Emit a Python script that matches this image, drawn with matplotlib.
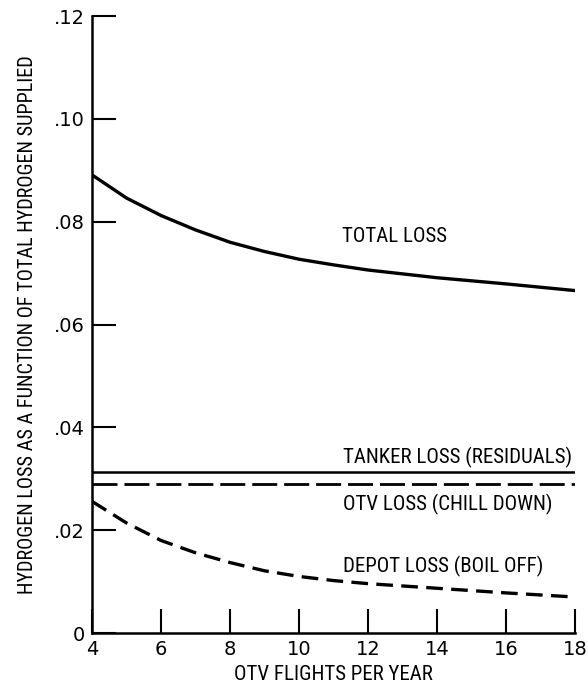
import matplotlib
matplotlib.use('Agg')
import matplotlib.pyplot as plt

# FLIGHTS PER YEAR AND THE LOSS FRACTIONS
flights = [4, 5, 6, 7, 8, 9, 10, 11, 12, 14, 16, 18]
total_loss = [0.0891, 0.0846, 0.0812, 0.0784, 0.0760, 0.0742, 0.0727, 0.0716, 0.0706, 0.0691, 0.0679, 0.0666]
depot_loss = [0.0256, 0.0214, 0.0180, 0.0156, 0.0137, 0.0121, 0.0110, 0.0102, 0.0096, 0.0087, 0.0078, 0.0070]
tanker_loss = [0.0313] * len(flights)
otv_loss = [0.0290] * len(flights)

x_ticks = [4, 6, 8, 10, 12, 14, 16, 18]
y_ticks = [0, 0.02, 0.04, 0.06, 0.08, 0.10, 0.12]
y_tick_labels = ['0', '.02', '.04', '.06', '.08', '.10', '.12']

# CONDENSED TYPE FOR THE LABELS, PLAIN TYPE FOR THE TICK NUMBERS
cond = ['Roboto Condensed', 'DejaVu Sans']
plt.rcParams['font.family'] = ['DejaVu Sans']

fig = plt.figure(figsize=(5.88, 6.85), dpi=100)
ax = fig.add_axes([0.1565, 0.0759, 0.8215, 0.9007])

ax.plot(flights, total_loss, color='black', lw=2.4)
ax.plot(flights, tanker_loss, color='black', lw=1.8)
ax.plot(flights, otv_loss, color='black', lw=2.0, dashes=(9, 2.5))
ax.plot(flights, depot_loss, color='black', lw=2.4, dashes=(5, 2.5))

ax.set_xlim(4, 18)
ax.set_ylim(0, 0.12)
ax.set_xticks(x_ticks)
ax.set_yticks(y_ticks, y_tick_labels)
ax.spines['top'].set_visible(False)
ax.spines['right'].set_visible(False)
ax.spines['left'].set_linewidth(1.8)
ax.spines['bottom'].set_linewidth(1.8)
ax.tick_params(axis='both', direction='in', length=17, width=1.5, labelsize=14, pad=5)

ax.text(11.25, 0.0772, 'TOTAL LOSS', fontsize=15, va='center', family=cond)
ax.text(11.28, 0.0342, 'TANKER LOSS (RESIDUALS)', fontsize=15, va='center', family=cond)
ax.text(11.28, 0.0251, 'OTV LOSS (CHILL DOWN)', fontsize=15, va='center', family=cond)
ax.text(11.28, 0.0130, 'DEPOT LOSS (BOIL OFF)', fontsize=15, va='center', family=cond)

ax.set_xlabel('OTV FLIGHTS PER YEAR', fontsize=15, labelpad=4, family=cond)
ax.set_ylabel('HYDROGEN LOSS AS A FUNCTION OF TOTAL HYDROGEN SUPPLIED', fontsize=14.6, labelpad=12, family=cond)

fig.savefig('out.png', dpi=100)
